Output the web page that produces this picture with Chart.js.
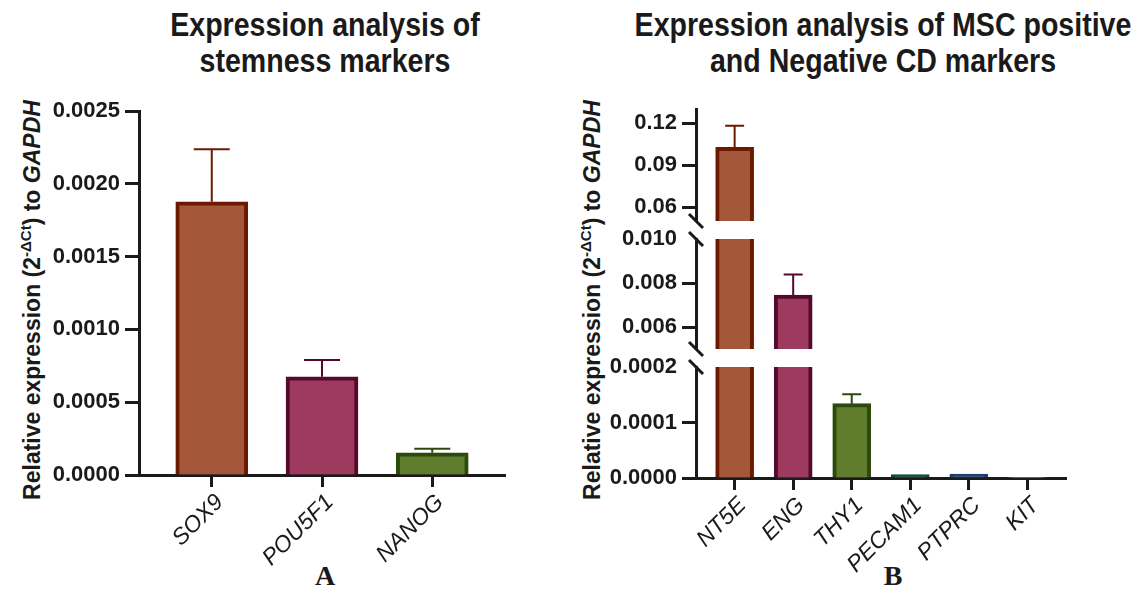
<!DOCTYPE html>
<html>
<head>
<meta charset="utf-8">
<script src="https://cdn.jsdelivr.net/npm/chart.js@4.4.1/dist/chart.umd.min.js"></script>
<style>
  body { margin: 0; background: #fff; }
  #wrap { position: relative; width: 1146px; height: 606px; overflow: hidden; font-family: "Liberation Sans", Arial, sans-serif; color: #1a1a1a; }
  canvas { position: absolute; left: 0; top: 0; }
  .title { position: absolute; top: 6px; width: 640px; font-weight: bold; font-size: 34px; line-height: 36px; text-align: center; transform: scaleX(0.84); white-space: nowrap; }
  .ytitle { position: absolute; width: 480px; height: 28px; font-weight: bold; font-size: 23px; line-height: 28px; text-align: center; white-space: nowrap; transform: rotate(-90deg); }
  .ytitle sup { font-size: 15px; line-height: 0; }
  .panel { position: absolute; top: 560px; width: 60px; text-align: center; font-family: "Liberation Serif", "Times New Roman", serif; font-weight: bold; font-size: 28px; }
</style>
</head>
<body>
<div id="wrap">
  <div class="title" style="left:5px">Expression analysis of<br>stemness markers</div>
  <div class="title" style="left:563px">Expression analysis of MSC positive<br>and Negative CD markers</div>
  <div class="ytitle" style="left:-208px; top:286px">Relative expression (2<sup>-ΔCt</sup>) to <i>GAPDH</i></div>
  <div class="ytitle" style="left:352px; top:286px">Relative expression (2<sup>-ΔCt</sup>) to <i>GAPDH</i></div>
  <div class="panel" style="left:295px">A</div>
  <div class="panel" style="left:863px">B</div>
  <canvas id="chartA" width="1146" height="606"></canvas>
  <canvas id="chartTop" width="1146" height="606"></canvas>
  <canvas id="chartMid" width="1146" height="606"></canvas>
  <canvas id="chartBot" width="1146" height="606"></canvas>
</div>
<script>
// Dados: marcadores de estaminalidade (painel A)
const stemGenes = ["SOX9", "POU5F1", "NANOG"];
const stemMeans = [0.001877, 0.000675, 0.000153];
const stemErrors = [0.00036, 0.000115, 0.000028];
const stemTicks = [0, 0.0005, 0.001, 0.0015, 0.002, 0.0025];

// Dados: marcadores CD (painel B)
const mscGenes = ["NT5E", "ENG", "THY1", "PECAM1", "PTPRC", "KIT"];
const mscMeans = [0.1027, 0.00745, 0.000134, 0.000006, 0.000007, 0.000001];
const mscErrors = [0.0153, 0.00094, 0.000017, 0, 0, 0];
const topTicks = [0.06, 0.09, 0.12];
const midTicks = [0.006, 0.008, 0.010];
const botTicks = [0, 0.0001, 0.0002];

const stemFill = ["#a5573b", "#9e3a5e", "#5f7d2d"];
const stemEdge = ["#6b1a00", "#540a2c", "#2c4a0c"];
const mscFill = ["#a5573b", "#9e3a5e", "#5f7d2d", "#1f5e40", "#2f4f80", "#e8906c"];
const mscEdge = ["#6b1a00", "#540a2c", "#2c4a0c", "#0e4a2e", "#1f3a66", "#e8906c"];

const ink = "#1a1a1a";
Chart.defaults.font.family = '"Liberation Sans", Arial, sans-serif';
Chart.defaults.animation = false;

// Barras de erro (só para cima), desenhadas com as escalas do gráfico
const errorBars = {
  id: "errorBars",
  afterDatasetsDraw(chart, args, opts) {
    if (!opts.means) return;
    const xs = chart.scales.x, ys = chart.scales.y, ctx = chart.ctx;
    ctx.save();
    ctx.lineWidth = 2;
    opts.means.forEach((m, i) => {
      const e = opts.errors[i];
      if (!e) return;
      const lo = Math.max(m, ys.min), hi = Math.min(m + e, ys.max);
      if (hi <= lo) return;
      const x = xs.getPixelForValue(i);
      ctx.strokeStyle = opts.colors[i];
      ctx.beginPath();
      ctx.moveTo(x, ys.getPixelForValue(lo));
      ctx.lineTo(x, ys.getPixelForValue(hi));
      if (m + e <= ys.max) {
        const yc = ys.getPixelForValue(m + e);
        ctx.moveTo(x - opts.cap / 2, yc);
        ctx.lineTo(x + opts.cap / 2, yc);
      }
      ctx.stroke();
    });
    ctx.restore();
  },
};

// Marcas de quebra do eixo "\\"
const axisBreaks = {
  id: "axisBreaks",
  afterDraw(chart, args, opts) {
    const a = chart.chartArea, ctx = chart.ctx;
    const marks = [];
    if (opts.top) marks.push(a.top);
    if (opts.bottom) marks.push(a.bottom);
    ctx.save();
    ctx.strokeStyle = ink;
    ctx.lineWidth = 3;
    marks.forEach((y) => {
      ctx.beginPath();
      ctx.moveTo(a.left - 7, y - 7);
      ctx.lineTo(a.left + 7, y + 7);
      ctx.stroke();
    });
    ctx.restore();
  },
};

function xScale(labels, display) {
  return {
    type: "linear",
    display: display,
    offset: false,
    min: -0.66,
    max: labels.length - 1 + 0.66,
    afterBuildTicks: (s) => { s.ticks = labels.map((_, i) => ({ value: i })); },
    afterFit: (s) => {
      s.height = display ? 100 : 0;
      s.paddingLeft = 0;
      s.paddingRight = 0;
    },
    ticks: {
      autoSkip: false,
      minRotation: 45,
      maxRotation: 45,
      padding: 2,
      labelOffset: 8,
      color: ink,
      font: { size: 23, style: "italic" },
      callback: (v) => labels[v],
    },
    grid: { offset: false, drawOnChartArea: false, tickLength: 12, tickWidth: 3, tickColor: ink },
    border: { width: 3, color: ink },
  };
}

function yScale(min, max, tickVals, decimals, hideMaxTick) {
  return {
    type: "linear",
    min: min,
    max: max,
    afterBuildTicks: (s) => { s.ticks = tickVals.map((v) => ({ value: v })); },
    afterFit: (s) => {
      s.width = 100;
      s.paddingTop = 0;
      s.paddingBottom = 0;
    },
    ticks: {
      autoSkip: false,
      padding: 5,
      color: ink,
      font: { size: 22, weight: "bold" },
      callback: (v) => v.toFixed(decimals),
    },
    grid: {
      drawOnChartArea: false,
      tickLength: 14,
      tickWidth: 3,
      tickColor: (c) => (hideMaxTick && c.tick && c.tick.value === max ? "rgba(0,0,0,0)" : ink),
    },
    border: { width: 3, color: ink },
  };
}

// Painel A
new Chart(document.getElementById("chartA"), {
  type: "bar",
  data: {
    datasets: [{
      data: stemMeans.map((v, i) => ({ x: i, y: v })),
      backgroundColor: stemFill,
      borderColor: stemEdge,
      borderWidth: 4,
      borderSkipped: "start",
      barThickness: 72,
    }],
  },
  options: {
    responsive: false,
    layout: { padding: { left: 39, right: 641, top: 111, bottom: 31 } },
    plugins: {
      legend: { display: false },
      tooltip: { enabled: false },
      errorBars: { means: stemMeans, errors: stemErrors, colors: stemEdge, cap: 36 },
    },
    scales: { x: xScale(stemGenes, true), y: yScale(0, 0.0025, stemTicks, 4, false) },
  },
  plugins: [errorBars],
});

// Painel B: três segmentos do eixo quebrado
const segments = [
  { id: "chartTop", min: 0.05, max: 0.13, ticks: topTicks, dec: 2, top: 109, bottom: 385, xAxis: false, hideMax: false, brk: { bottom: true } },
  { id: "chartMid", min: 0.005, max: 0.010, ticks: midTicks, dec: 3, top: 239, bottom: 257, xAxis: false, hideMax: true, brk: { top: true, bottom: true } },
  { id: "chartBot", min: 0, max: 0.0002, ticks: botTicks, dec: 4, top: 367, bottom: 28, xAxis: true, hideMax: true, brk: { top: true } },
];

segments.forEach((seg) => {
  new Chart(document.getElementById(seg.id), {
    type: "bar",
    data: {
      datasets: [{
        data: mscMeans.map((v, i) => ({ x: i, y: v > seg.min ? [seg.min, Math.min(v, seg.max)] : null })),
        backgroundColor: mscFill,
        borderColor: mscEdge,
        borderWidth: (c) => ({ left: 4, right: 4, bottom: 0, top: mscMeans[c.dataIndex] <= seg.max ? 4 : 0 }),
        borderSkipped: false,
        barThickness: 38,
      }],
    },
    options: {
      responsive: false,
      layout: { padding: { left: 596, right: 80, top: seg.top, bottom: seg.bottom } },
      plugins: {
        legend: { display: false },
        tooltip: { enabled: false },
        errorBars: { means: mscMeans, errors: mscErrors, colors: mscEdge, cap: 19 },
        axisBreaks: seg.brk,
      },
      scales: { x: xScale(mscGenes, seg.xAxis), y: yScale(seg.min, seg.max, seg.ticks, seg.dec, seg.hideMax) },
    },
    plugins: [errorBars, axisBreaks],
  });
});
</script>
</body>
</html>
